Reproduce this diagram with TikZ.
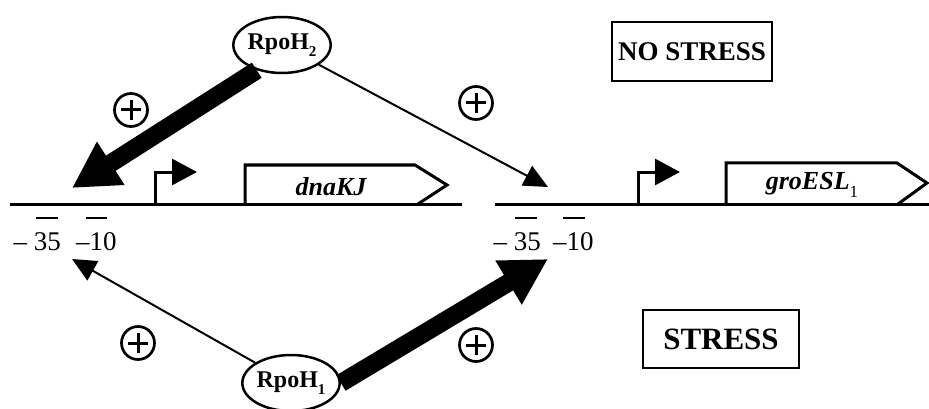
\documentclass[tikz,border=0pt]{standalone}
\usepackage{fontspec}
\setmainfont{Liberation Serif}
\usetikzlibrary{arrows.meta,shapes.geometric}
\begin{document}
\begin{tikzpicture}[x=1pt,y=-1pt,
  dna/.style={line width=3pt},
  bar/.style={line width=2.5pt},
  genebox/.style={line width=3pt, line join=miter},
  promoter/.style={line width=3pt, -{Triangle[length=25pt,width=26pt]}},
  bigarrow/.style={line width=18pt, -{Triangle[length=46pt,width=48pt]}},
  thinarrow/.style={line width=2pt, -{Triangle[length=24pt,width=22pt]}},
  rpoh/.style={ellipse, draw, line width=2.5pt, minimum width=74pt, minimum height=56pt, inner sep=0pt, font=\fontsize{24}{26}\selectfont\bfseries},
  pluscirc/.style={circle, draw, line width=2.7pt, minimum size=33pt, inner sep=0pt,
    path picture={\draw[line width=3pt] ([xshift=-10pt]path picture bounding box.center) -- ([xshift=10pt]path picture bounding box.center);
                  \draw[line width=3pt] ([yshift=-10pt]path picture bounding box.center) -- ([yshift=10pt]path picture bounding box.center);}},
  condbox/.style={draw, line width=2pt, font=\bfseries, inner sep=0pt},
  poslabel/.style={font=\fontsize{27}{29}\selectfont, inner sep=0pt},
  genelabel/.style={font=\fontsize{26}{28}\selectfont\bfseries\itshape, inner sep=0pt}
]
\useasboundingbox (0,0) rectangle (929,409);

% DNA lines
\coordinate (dnaLa) at (10,204);
\coordinate (dnaLb) at (462,204);
\coordinate (dnaRa) at (495,204);
\coordinate (dnaRb) at (929,204);
\draw[dna] (dnaLa) -- (dnaLb);
\draw[dna] (dnaRa) -- (dnaRb);

% -35 / -10 bars
\draw[bar] (36,218) -- (58,218);
\draw[bar] (86,218) -- (107,218);
\draw[bar] (515,218) -- (537,218);
\draw[bar] (563,218) -- (585,218);

% position labels
\node[poslabel, anchor=base east] (l35L) at (61,250) {– 35};
\node[poslabel, anchor=base west] (l10L) at (76,250) {–10};
\node[poslabel, anchor=base east] (l35R) at (541,250) {– 35};
\node[poslabel, anchor=base west] (l10R) at (553,250) {–10};

% promoters
\draw[promoter] (155,205.5) |- (197,172);
\draw[promoter] (638,205.5) |- (680,172);

% genes
\draw[genebox] (245,205.5) -- (245,165) -- (415,165) -- (447,185) -- (418,204);
\node[genelabel] (gene1) at (331,187) {dnaKJ};
\draw[genebox] (726,205.5) -- (726,163) -- (897,163) -- (927,183) -- (898,204);
\node[genelabel] (gene2) at (812,185) {groESL\raisebox{-0.3em}{\fontsize{17}{17}\selectfont\upshape\mdseries 1}};

% regulators
\node[rpoh] (rpoh2) at (282,45) {RpoH\raisebox{-0.3em}{\fontsize{15}{15}\selectfont 2}};
\node[rpoh] (rpoh1) at (291,383) {RpoH\raisebox{-0.3em}{\fontsize{15}{15}\selectfont 1}};

% target points
\coordinate (t1) at (72,188);
\coordinate (t2) at (548,187);
\coordinate (t3) at (72,259);
\coordinate (t4) at (548,259);

\draw[bigarrow] (rpoh2.225) -- (t1);
\draw[thinarrow] (rpoh2) -- (t2);
\draw[thinarrow] (rpoh1) -- (t3);
\draw[bigarrow] (rpoh1.east) -- (t4);

% plus signs
\node[pluscirc] (p1) at (131,110) {};
\node[pluscirc] (p2) at (476,103) {};
\node[pluscirc] (p3) at (138,343) {};
\node[pluscirc] (p4) at (476,345) {};

% condition boxes
\node[condbox, font=\fontsize{27}{29}\selectfont\bfseries, minimum width=160pt, minimum height=59pt] (nostress) at (692,52) {NO STRESS};
\node[condbox, font=\fontsize{31}{33}\selectfont\bfseries, minimum width=156pt, minimum height=58pt] (stress) at (721,339) {STRESS};
\end{tikzpicture}
\end{document}
